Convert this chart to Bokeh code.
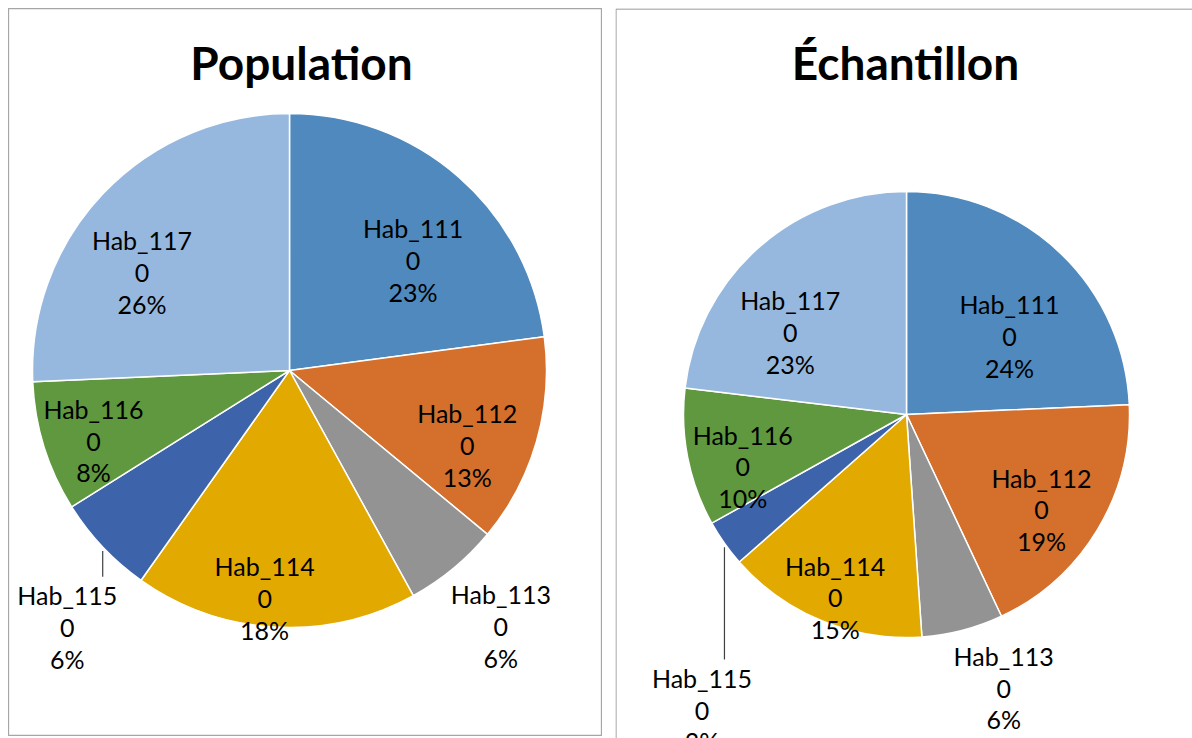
import math
from bokeh.plotting import figure
from bokeh.models import Range1d, ColumnDataSource, Spacer
from bokeh.layouts import row, column
from bokeh.embed import file_html
from bokeh.resources import INLINE
from bokeh.core.properties import value

# ---------------- data ----------------
categories = ["Hab_111", "Hab_112", "Hab_113", "Hab_114", "Hab_115", "Hab_116", "Hab_117"]
population_share = [22.9, 13.1, 6.0, 17.8, 6.3, 8.2, 25.7]
echantillon_share = [24.3, 18.7, 5.9, 14.6, 3.4, 10.0, 23.1]
shown_values = ["0", "0", "0", "0", "0", "0", "0"]
titles = ["Population", "Échantillon"]

# ---------------- style / layout ----------------
colors = ["#4F89BD", "#D46F2C", "#939393", "#E2A900", "#3D64AB", "#5F983E", "#97B8DE"]
FONT = "Lato"
LABEL_SIZE = 25
LINE_H = 32
LINE_FACTOR = 1.06  # relative to the font's ascent+descent

# per-slice label placement: (angle nudge in degrees, radius fraction)
pop_label_layout = [(7, 0.645), (6.7, 0.75), (0, 1.29), (3, 0.89), (-5.7, 1.32), (-2.4, 0.81), (-10, 0.69)]
ech_label_layout = [(9, 0.58), (4, 0.74), (-5, 1.30), (-1, 0.88), (-20, 1.61), (-6.4, 0.77), (-13, 0.64)]
leader_slice = 4  # Hab_115 label sits outside with a vertical leader


def make_panel(title, shares, layout, width, height, cx, cy, r, title_x, right_open=False):
    p = figure(width=width, height=height, output_backend="svg", toolbar_location=None,
               x_range=Range1d(0, width), y_range=Range1d(0, height),
               min_border=0, match_aspect=False)
    p.axis.visible = False
    p.xgrid.visible = False
    p.ygrid.visible = False
    p.background_fill_color = "white"
    p.border_fill_color = "white"
    if right_open:
        p.outline_line_color = None
        p.segment(x0=[0.5, 0.5], y0=[0, height - 0.5], x1=[0.5, width], y1=[height - 0.5, height - 0.5],
                  line_color="#A6A6A6", line_width=1.3)
    else:
        p.outline_line_color = "#A6A6A6"
        p.outline_line_width = 1.3

    total = sum(shares)
    fr = [s / total for s in shares]
    starts, ends, mids = [], [], []
    cum = 0.0
    for f in fr:
        a0 = cum * 2 * math.pi
        a1 = (cum + f) * 2 * math.pi
        starts.append(math.pi / 2 - a1)
        ends.append(math.pi / 2 - a0)
        mids.append((a0 + a1) / 2)
        cum += f

    src = ColumnDataSource(dict(start=starts, end=ends, color=colors[:len(shares)]))
    p.wedge(x=cx, y=cy, radius=r, start_angle="start", end_angle="end", source=src,
            fill_color="color", line_color="white", line_width=1.5)

    lx, ly, txt = [], [], []
    for i, (cat, v, f) in enumerate(zip(categories, shown_values, fr)):
        nudge, rf = layout[i]
        a = mids[i] + math.radians(nudge)
        lx.append(cx + rf * r * math.sin(a))
        ly.append(cy + rf * r * math.cos(a))
        txt.append(f"{cat}\n{v}\n{round(f * 100)}%")
    p.text(x=lx, y=ly, text=txt, text_align="center", text_baseline="middle",
           text_font=value(FONT), text_font_size=f"{LABEL_SIZE}px", text_color="black",
           text_line_height=LINE_FACTOR)

    # leader line for the small outside slice
    i = leader_slice
    ex = cx + r * math.sin(mids[i])
    ey = cy + r * math.cos(mids[i]) - 4
    ytop = ly[i] + 1.5 * LINE_H + 2
    p.segment(x0=[ex], y0=[ey], x1=[ex], y1=[ytop], line_color="#404040", line_width=1.2)

    p.text(x=[title_x], y=[height - 54], text=[title], text_align="center", text_baseline="middle",
           text_font=value(FONT), text_font_size="46px", text_font_style="bold", text_color="black")
    return p


left = make_panel(titles[0], population_share, pop_label_layout, 594, 728, 281, 366, 257, 293)
right = make_panel(titles[1], echantillon_share, ech_label_layout, 577, 730, 291, 324, 223, 290, right_open=True)

layout_ = column(Spacer(height=8),
                 row(Spacer(width=8), left, Spacer(width=13), right, spacing=0),
                 spacing=0)
open("out.html", "w").write(file_html(layout_, INLINE))
